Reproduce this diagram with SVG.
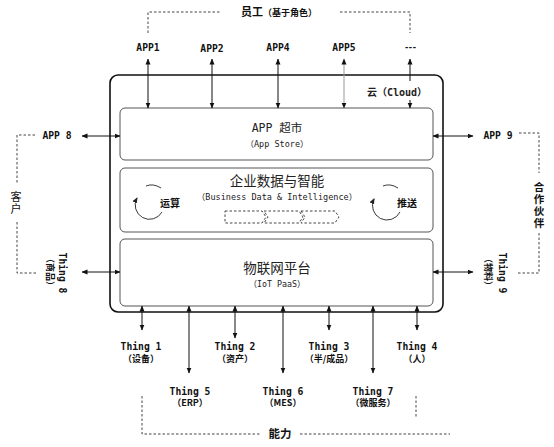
<svg xmlns="http://www.w3.org/2000/svg" width="554" height="447" viewBox="0 0 554 447">
<defs>
<marker id="ah" viewBox="0 0 6 6" refX="5.5" refY="3" markerWidth="6" markerHeight="6" markerUnits="userSpaceOnUse" orient="auto-start-reverse">
<path d="M0,0.5 L6,3 L0,5.5 Z" fill="#111"/>
</marker>
<marker id="ac" viewBox="0 0 6 6" refX="5" refY="3" markerWidth="6" markerHeight="6" markerUnits="userSpaceOnUse" orient="auto">
<path d="M0,0.5 L6,3 L0,5.5 Z" fill="#222"/>
</marker>
</defs>
<style>
.lab{font-family:"DejaVu Sans Mono","Noto Sans CJK SC",monospace;font-weight:bold;font-size:9.7px;fill:#111}
.cn{font-family:"Noto Sans CJK SC",sans-serif;font-weight:bold;fill:#111}
.t{font-family:"DejaVu Sans Mono","Noto Sans CJK SC",monospace;fill:#222}
.vt{font-family:"Noto Sans CJK SC",sans-serif;writing-mode:vertical-rl;fill:#111}
.dash{fill:none;stroke:#444;stroke-width:1;stroke-dasharray:2.5,2}
.arr{stroke:#111;stroke-width:1;fill:none;marker-start:url(#ah);marker-end:url(#ah)}
.box{fill:#fff;stroke:#555;stroke-width:1}
</style>
<rect width="554" height="447" fill="#fff"/>

<g id="cloud">
<rect x="110" y="75" width="333" height="237" rx="8" fill="#fff" stroke="#111" stroke-width="1.6"/>
<text x="367" y="96" class="t" style="font-size:10px;font-weight:bold">云（Cloud）</text>
</g>

<g id="appstore">
<rect class="box" x="120" y="108" width="313" height="52" rx="5"/>
<text x="277" y="132" class="t" text-anchor="middle" style="font-size:11.5px">APP 超市</text>
<text x="277" y="147" class="t" text-anchor="middle" style="font-size:8.5px">（App Store）</text>
</g>

<g id="bdi">
<rect class="box" x="120" y="168" width="313" height="64" rx="5"/>
<text x="277" y="186" class="t" text-anchor="middle" style="font-size:13.5px;font-family:'Noto Sans CJK SC',sans-serif">企业数据与智能</text>
<text x="277" y="200" class="t" text-anchor="middle" style="font-size:8.5px">（Business Data &amp; Intelligence）</text>
<path class="dash" d="M225,211 L262,211 L266,217 L262,223 L225,223 Z"/>
<path class="dash" d="M264,211 L299,211 L303,217 L299,223 L264,223 L268,217 Z"/>
<path class="dash" d="M301,211 L335,211 L339,217 L335,223 L301,223 L305,217 Z"/>
<path d="M146,186 Q153,183 161,188" fill="none" stroke="#222" stroke-width="0.9"/>
<path d="M162,212 A14,14 0 0 1 137,198" fill="none" stroke="#222" stroke-width="0.9" marker-end="url(#ac)"/>
<text x="170" y="207" class="cn" text-anchor="middle" style="font-size:10px">运算</text>
<path d="M383,186 Q390,183 398,188" fill="none" stroke="#222" stroke-width="0.9"/>
<path d="M400,212 A14,14 0 0 1 374,199" fill="none" stroke="#222" stroke-width="0.9" marker-end="url(#ac)"/>
<text x="407" y="207" class="cn" text-anchor="middle" style="font-size:10px">推送</text>
</g>

<g id="iot">
<rect class="box" x="120" y="239" width="313" height="67" rx="5"/>
<text x="277" y="273" class="t" text-anchor="middle" style="font-size:13.5px;font-family:'Noto Sans CJK SC',sans-serif">物联网平台</text>
<text x="277" y="287" class="t" text-anchor="middle" style="font-size:8.3px">（IoT PaaS）</text>
</g>

<g id="employees">
<text x="148" y="51" class="lab" text-anchor="middle">APP1</text>
<text x="212" y="52" class="lab" text-anchor="middle">APP2</text>
<text x="278" y="51" class="lab" text-anchor="middle">APP4</text>
<text x="344" y="51" class="lab" text-anchor="middle">APP5</text>
<text x="410" y="50" class="lab" text-anchor="middle" style="font-size:8px;letter-spacing:-1px">---</text>
<path class="dash" d="M148,33 V12 H220 M340,12 H410 V33"/>
<text x="279" y="16" class="cn" text-anchor="middle"><tspan style="font-size:11px">员工</tspan><tspan style="font-size:9px">（基于角色）</tspan></text>
</g>

<g id="customers">
<text x="57" y="139" class="lab" text-anchor="middle">APP 8</text>
<text transform="translate(59,273) rotate(90)" class="lab" text-anchor="middle">Thing 8</text>
<text transform="translate(47,272) rotate(90)" class="cn" text-anchor="middle" style="font-size:9px">（商品）</text>
<path class="dash" d="M35,135 H17 V183 M17,222 V273 H38"/>
<text x="16" y="191" class="vt" style="font-size:11px;letter-spacing:1px">客户</text>
</g>

<g id="partners">
<text x="498" y="139" class="lab" text-anchor="middle">APP 9</text>
<text transform="translate(499,273) rotate(90)" class="lab" text-anchor="middle">Thing 9</text>
<text transform="translate(485,272) rotate(90)" class="cn" text-anchor="middle" style="font-size:9px">（物料）</text>
<path class="dash" d="M519,133 H539 V173 M539,233 V273 H517"/>
<text x="539" y="182" class="vt" style="font-size:10.5px;font-weight:bold;letter-spacing:1.5px">合作伙伴</text>
</g>

<g id="capabilities">
<text x="141" y="350" class="lab" text-anchor="middle">Thing 1</text>
<text x="141" y="362" class="cn" text-anchor="middle" style="font-size:9px">（设备）</text>
<text x="235" y="350" class="lab" text-anchor="middle">Thing 2</text>
<text x="235" y="362" class="cn" text-anchor="middle" style="font-size:9px">（资产）</text>
<text x="329" y="350" class="lab" text-anchor="middle">Thing 3</text>
<text x="329" y="362" class="cn" text-anchor="middle" style="font-size:9px">（半/成品）</text>
<text x="417" y="350" class="lab" text-anchor="middle">Thing 4</text>
<text x="417" y="362" class="cn" text-anchor="middle" style="font-size:9px">（人）</text>
<text x="190" y="395" class="lab" text-anchor="middle">Thing 5</text>
<text x="190" y="406" class="cn" text-anchor="middle" style="font-size:9px">（ERP）</text>
<text x="283" y="395" class="lab" text-anchor="middle">Thing 6</text>
<text x="283" y="406" class="cn" text-anchor="middle" style="font-size:9px">（MES）</text>
<text x="373" y="395" class="lab" text-anchor="middle">Thing 7</text>
<text x="373" y="406" class="cn" text-anchor="middle" style="font-size:9px">（微服务）</text>
<path class="dash" d="M142,396 V434 H260 M300,434 H450 M416,396 V418"/>
<text x="280" y="438" class="cn" text-anchor="middle" style="font-size:11.5px">能力</text>
</g>

<g id="connectors">
<line class="arr" x1="148" y1="59" x2="148" y2="108"/>
<line class="arr" x1="212" y1="59" x2="212" y2="108"/>
<line class="arr" x1="278" y1="59" x2="278" y2="108"/>
<line class="arr" x1="344" y1="59" x2="344" y2="108" style="stroke:#999"/>
<line x1="410" y1="59" x2="410" y2="81" stroke="#111" marker-start="url(#ah)"/>
<line x1="410" y1="100" x2="410" y2="108" stroke="#111" marker-end="url(#ah)"/>
<line class="arr" x1="82" y1="136" x2="120" y2="136"/>
<line class="arr" x1="82" y1="272" x2="120" y2="272"/>
<line class="arr" x1="433" y1="136" x2="473" y2="136"/>
<line class="arr" x1="433" y1="272" x2="473" y2="272"/>
<line class="arr" x1="142" y1="306" x2="142" y2="330"/>
<line class="arr" x1="189" y1="306" x2="189" y2="373"/>
<line class="arr" x1="235" y1="306" x2="235" y2="338"/>
<line class="arr" x1="283" y1="306" x2="283" y2="373"/>
<line class="arr" x1="329" y1="306" x2="329" y2="330"/>
<line class="arr" x1="373" y1="306" x2="373" y2="373"/>
<line class="arr" x1="417" y1="306" x2="417" y2="330"/>
</g>
</svg>
